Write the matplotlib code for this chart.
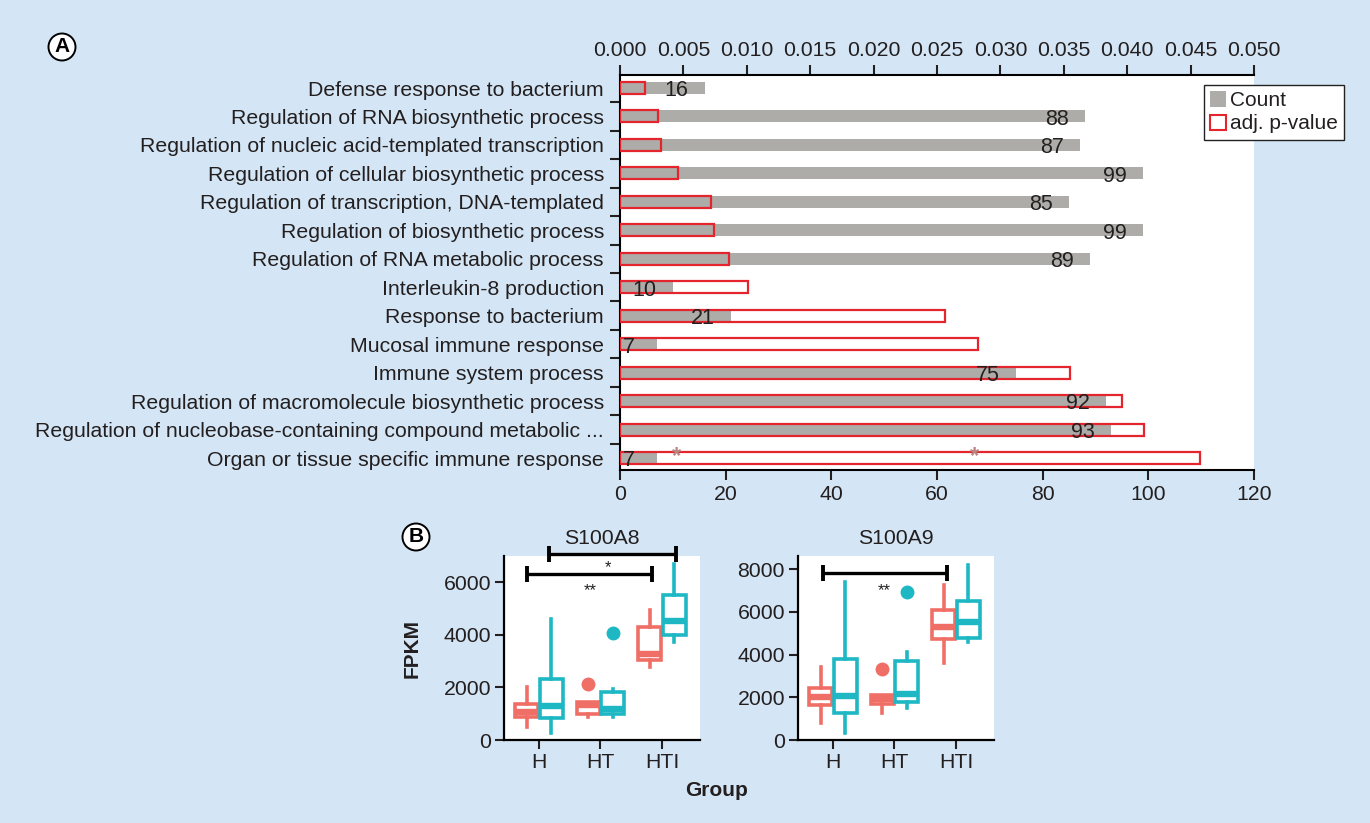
import matplotlib
matplotlib.use("Agg")
import matplotlib.pyplot as plt
from matplotlib.patches import Patch, Ellipse
import numpy as np

plt.rcParams['font.family'] = ['Liberation Sans', 'DejaVu Sans']
plt.rcParams['text.color'] = '#231F20'
plt.rcParams['xtick.color'] = '#231F20'
plt.rcParams['ytick.color'] = '#231F20'

# ---------------- Data: panel A ----------------
TERMS = [
    "Defense response to bacterium",
    "Regulation of RNA biosynthetic process",
    "Regulation of nucleic acid-templated transcription",
    "Regulation of cellular biosynthetic process",
    "Regulation of transcription, DNA-templated",
    "Regulation of biosynthetic process",
    "Regulation of RNA metabolic process",
    "Interleukin-8 production",
    "Response to bacterium",
    "Mucosal immune response",
    "Immune system process",
    "Regulation of macromolecule biosynthetic process",
    "Regulation of nucleobase-containing compound metabolic ...",
    "Organ or tissue specific immune response",
]
COUNTS = [16, 88, 87, 99, 85, 99, 89, 10, 21, 7, 75, 92, 93, 7]
ADJ_P = [0.00194, 0.00296, 0.00324, 0.0046, 0.00718, 0.0074, 0.0086,
         0.0101, 0.02565, 0.02826, 0.03545, 0.0396, 0.04133, 0.04577]
COUNT_TICKS = [0, 20, 40, 60, 80, 100, 120]
P_TICKS = [0.000, 0.005, 0.010, 0.015, 0.020, 0.025, 0.030, 0.035, 0.040, 0.045, 0.050]
STAR_COUNTS = [10.7, 67.1]   # small asterisks on last bar

# ---------------- Data: panel B ----------------
GROUPS = ["H", "HT", "HTI"]
# box order: H-red, H-teal, HT-red, HT-teal, HTI-red, HTI-teal
A8_WHISLO = [510, 260, 890, 860, 2770, 3720]
A8_Q1 = [860, 830, 1000, 1000, 3030, 3990]
A8_MED = [1080, 1300, 1320, 1180, 3250, 4520]
A8_Q3 = [1380, 2330, 1440, 1840, 4300, 5500]
A8_WHISHI = [2000, 4600, 1440, 1920, 4940, 6670]
A8_FLIERS = [[], [], [2130], [4060], [], []]

A9_WHISLO = [800, 330, 1250, 1500, 3600, 4600]
A9_Q1 = [1620, 1270, 1700, 1800, 4750, 4800]
A9_MED = [2000, 2050, 1920, 2150, 5300, 5550]
A9_Q3 = [2450, 3800, 2120, 3680, 6100, 6520]
A9_WHISHI = [3420, 7380, 2120, 4100, 7250, 8200]
A9_FLIERS = [[], [], [3330], [6950], [], []]

A8_TICKS = [0, 2000, 4000, 6000]
A9_TICKS = [0, 2000, 4000, 6000, 8000]

BG = '#D4E6F5'
GREY = '#ADACA8'
RED_EDGE = '#E4252E'
C_RED = '#EF6F66'
C_TEAL = '#1DB8C4'
INK = '#231F20'

W, H = 1370, 823
fig = plt.figure(figsize=(W / 100, H / 100), dpi=100, facecolor=BG)

def fx(px):
    return px / W

def fy(py):
    return 1 - py / H

PT = 0.72  # points per pixel at 100 dpi

# ---------------- Panel A ----------------
axA = fig.add_axes([fx(620), fy(470), fx(1254) - fx(620), fy(75) - fy(470)])
axA.set_facecolor('white')
y = np.arange(len(TERMS))
axA.barh(y, COUNTS, height=0.42, color=GREY, zorder=2)
axA.set_xlim(0, 120)
axA.set_ylim(13.42, -0.457)
axA.set_xticks(COUNT_TICKS)
axA.set_xticklabels([str(t) for t in COUNT_TICKS], fontsize=15.3)
axA.set_yticks(y)
axA.set_yticklabels(TERMS, fontsize=15.3)
axA.set_yticks(np.arange(len(TERMS) + 1) - 0.5, minor=True)
axA.tick_params(axis='y', which='major', length=0, pad=16 * PT)
axA.tick_params(axis='y', which='minor', length=10 * PT, width=1.5, direction='out')
axA.tick_params(axis='x', which='major', length=10 * PT, width=1.5, direction='out',
                pad=5 * PT)
for s in ['right', 'top']:
    axA.spines[s].set_visible(False)
for s in ['left', 'bottom']:
    axA.spines[s].set_linewidth(1.5)

axP = axA.twiny()
axP.barh(y, ADJ_P, height=0.42, facecolor='none', edgecolor=RED_EDGE,
         linewidth=1.6, zorder=3)
axP.set_xlim(0, 0.05)
axP.set_ylim(13.42, -0.457)
axP.set_xticks(P_TICKS)
axP.set_xticklabels(['%.3f' % t for t in P_TICKS], fontsize=15.3)
axP.tick_params(axis='x', which='major', length=10 * PT, width=1.5, direction='out',
                pad=5 * PT)
for s in ['right', 'bottom', 'left']:
    axP.spines[s].set_visible(False)
axP.spines['top'].set_linewidth(1.5)

# count labels drawn in the top axes (so they sit above the outline bars)
for i, c in enumerate(COUNTS):
    axP.text(c - 5.3, i + 0.1, str(c), ha='center', va='center', fontsize=15.5,
             color=INK, zorder=5, transform=axA.transData)

for sc in STAR_COUNTS:
    axP.text(sc, len(TERMS) - 1 - 0.05, '*', ha='center', va='center', fontsize=17,
             color='#B98582', fontweight='bold', zorder=6, transform=axA.transData)

leg = fig.legend(handles=[Patch(facecolor=GREY, edgecolor='none', label='Count'),
                          Patch(facecolor='white', edgecolor=RED_EDGE, linewidth=1.5,
                                label='adj. p-value')],
                 loc='upper left', bbox_to_anchor=(fx(1204), fy(85)),
                 bbox_transform=fig.transFigure, fontsize=15, frameon=True,
                 fancybox=False, framealpha=1, edgecolor='#222222',
                 handlelength=0.75, handleheight=0.75, handletextpad=0.2,
                 borderpad=0.3, labelspacing=0.2, borderaxespad=0)
leg.get_frame().set_linewidth(1.0)

# ---------------- Panel B ----------------
def boxpanel(left_px, title, whislo, q1, med, q3, whishi, fliers, ticks, ylim):
    ax = fig.add_axes([fx(left_px), fy(740), fx(196), fy(556) - fy(740)])
    ax.set_facecolor('white')
    colors = [C_RED, C_TEAL] * 3
    positions = []
    for g in range(3):
        positions += [g - 0.2, g + 0.2]
    for k in range(6):
        st = [dict(whislo=whislo[k], q1=q1[k], med=med[k], q3=q3[k],
                   whishi=whishi[k], fliers=fliers[k])]
        col = colors[k]
        ax.bxp(st, positions=[positions[k]], widths=0.38, patch_artist=True,
               showcaps=False,
               boxprops=dict(facecolor='white', edgecolor=col, linewidth=2.6),
               whiskerprops=dict(color=col, linewidth=2.6),
               medianprops=dict(color=col, linewidth=4.6, solid_capstyle='butt'),
               flierprops=dict(marker='o', markerfacecolor=col, markeredgecolor=col,
                               markersize=9))
    ax.set_xlim(-0.57, 2.62)
    ax.set_ylim(*ylim)
    ax.set_xticks(range(3))
    ax.set_xticklabels(GROUPS, fontsize=15.3)
    ax.set_yticks(ticks)
    ax.set_yticklabels([str(t) for t in ticks], fontsize=15.3)
    ax.tick_params(length=9 * PT, width=1.5, direction='out', pad=4 * PT)
    for s in ['right', 'top']:
        ax.spines[s].set_visible(False)
    for s in ['left', 'bottom']:
        ax.spines[s].set_linewidth(1.6)
    ax.set_title(title, fontsize=15.3, pad=9)
    return ax

ax8 = boxpanel(504, 'S100A8', A8_WHISLO, A8_Q1, A8_MED, A8_Q3, A8_WHISHI, A8_FLIERS,
               A8_TICKS, (0, 6990))
ax9 = boxpanel(798, 'S100A9', A9_WHISLO, A9_Q1, A9_MED, A9_Q3, A9_WHISHI, A9_FLIERS,
               A9_TICKS, (0, 8620))

def sigbar(ax, x1, x2, yv):
    ax.plot([x1, x2], [yv, yv], color='black', lw=2.4, marker='|', markersize=11,
            mew=2.8, clip_on=False, zorder=10, solid_capstyle='butt')

sigbar(ax8, 0.16, 2.23, 7060)
sigbar(ax8, -0.2, 1.84, 6300)
ax8.text(1.12, 6530, '*', ha='center', va='center', fontsize=12)
ax8.text(0.83, 5680, '**', ha='center', va='center', fontsize=12)
sigbar(ax9, -0.16, 1.85, 7840)
ax9.text(0.83, 6980, '**', ha='center', va='center', fontsize=12)

fig.text(fx(412), fy(648), 'FPKM', rotation=90, ha='center', va='center',
         fontsize=15, fontweight='bold')
fig.text(fx(717), fy(790), 'Group', ha='center', va='center', fontsize=15,
         fontweight='bold')

# circled panel letters
for letter, cx, cy in [('A', 62, 47), ('B', 416, 537)]:
    fig.add_artist(Ellipse((fx(cx), fy(cy)), 27 / W, 27 / H, transform=fig.transFigure,
                           facecolor='white', edgecolor='black', linewidth=1.4))
    fig.text(fx(cx), fy(cy), letter, ha='center', va='center', fontsize=15,
             fontweight='bold', color='black')

fig.savefig('out.png', dpi=100, facecolor=BG)
